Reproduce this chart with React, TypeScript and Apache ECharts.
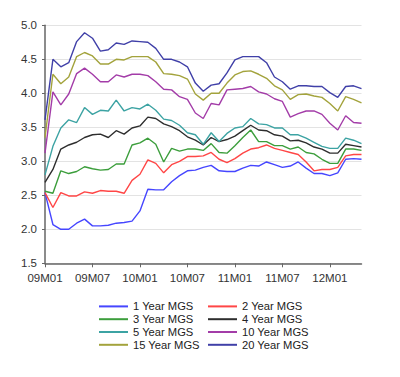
import React, { useEffect, useRef } from "react";
import * as echarts from "echarts";

const categories = [
  "09M01","09M02","09M03","09M04","09M05","09M06","09M07","09M08","09M09","09M10","09M11","09M12",
  "10M01","10M02","10M03","10M04","10M05","10M06","10M07","10M08","10M09","10M10","10M11","10M12",
  "11M01","11M02","11M03","11M04","11M05","11M06","11M07","11M08","11M09","11M10","11M11","11M12",
  "12M01","12M02","12M03","12M04","12M05",
];

const y1 = [2.54,2.07,2.00,2.00,2.09,2.15,2.05,2.05,2.06,2.09,2.10,2.12,2.27,2.59,2.58,2.58,2.70,2.79,2.86,2.87,2.91,2.94,2.86,2.85,2.85,2.90,2.94,2.93,2.99,2.95,2.91,2.93,2.99,2.90,2.82,2.82,2.79,2.83,3.03,3.04,3.03];
const y2 = [2.54,2.32,2.54,2.49,2.49,2.55,2.53,2.57,2.56,2.56,2.53,2.72,2.81,3.02,2.97,2.83,2.95,3.00,3.07,3.07,3.08,3.13,3.03,2.98,3.04,3.12,3.18,3.20,3.24,3.19,3.16,3.13,3.10,2.99,2.86,2.88,2.88,2.91,3.08,3.10,3.10];
const y3 = [2.56,2.53,2.86,2.82,2.85,2.92,2.89,2.87,2.88,2.96,2.96,3.24,3.27,3.34,3.25,2.99,3.19,3.15,3.18,3.18,3.16,3.26,3.13,3.12,3.23,3.35,3.46,3.29,3.29,3.23,3.23,3.18,3.21,3.13,3.11,3.03,2.97,2.97,3.18,3.18,3.16];
const y4 = [2.69,2.88,3.18,3.24,3.28,3.35,3.39,3.40,3.35,3.45,3.40,3.49,3.52,3.65,3.63,3.55,3.51,3.45,3.36,3.31,3.24,3.35,3.29,3.32,3.37,3.45,3.53,3.46,3.45,3.39,3.37,3.30,3.31,3.27,3.21,3.18,3.12,3.12,3.25,3.23,3.21];
const y5 = [2.80,3.22,3.49,3.61,3.57,3.79,3.69,3.75,3.74,3.90,3.74,3.79,3.77,3.84,3.75,3.62,3.60,3.53,3.42,3.39,3.25,3.42,3.29,3.41,3.49,3.51,3.63,3.55,3.54,3.49,3.49,3.39,3.39,3.34,3.28,3.22,3.19,3.19,3.34,3.31,3.26];
const y10 = [3.12,4.02,3.83,3.99,4.29,4.37,4.28,4.17,4.17,4.27,4.24,4.28,4.28,4.26,4.17,4.06,4.05,3.95,3.91,3.71,3.63,3.85,3.83,4.05,4.06,4.07,4.10,4.02,3.99,3.92,3.88,3.65,3.70,3.74,3.74,3.69,3.56,3.46,3.67,3.57,3.56];
const y15 = [3.35,4.28,4.14,4.24,4.54,4.60,4.55,4.43,4.43,4.50,4.49,4.54,4.54,4.54,4.46,4.29,4.28,4.26,4.21,3.99,3.90,4.00,4.00,4.15,4.27,4.32,4.33,4.28,4.22,4.11,4.05,3.91,3.98,3.99,3.96,3.94,3.85,3.74,3.95,3.91,3.86];
const y20 = [3.61,4.50,4.39,4.45,4.76,4.89,4.81,4.62,4.64,4.74,4.72,4.77,4.76,4.75,4.66,4.50,4.50,4.46,4.39,4.15,4.03,4.12,4.14,4.30,4.49,4.54,4.54,4.54,4.45,4.24,4.17,4.06,4.11,4.11,4.10,4.10,4.01,3.94,4.10,4.11,4.07];

const seriesNames = ["1 Year MGS","2 Year MGS","3 Year MGS","4 Year MGS","5 Year MGS","10 Year MGS","15 Year MGS","20 Year MGS"];
const seriesData = [y1, y2, y3, y4, y5, y10, y15, y20];
const colors = ["#4646ff","#ff4646","#3c9e3c","#2e2e2e","#3ca3a3","#a33ca8","#a3a33c","#4040a8"];

const FONT = 'Arial, "Liberation Sans", sans-serif';

export default function App() {
  const ref = useRef<HTMLDivElement>(null);
  useEffect(() => {
    if (!ref.current) return;
    const chart = echarts.init(ref.current, undefined, { renderer: "svg" });
    const legendCommon = {
      orient: "vertical" as const,
      top: 300,
      padding: 0,
      itemGap: 0,
      itemWidth: 29,
      itemHeight: 2,
      icon: "rect",
      textStyle: { fontFamily: FONT, fontSize: 11.2, color: "#222", lineHeight: 12.8 },
    };
    chart.setOption({
      animation: false,
      color: colors,
      grid: { left: 45, right: 38.5, top: 25.3, bottom: 113.7, containLabel: false },
      legend: [
        { ...legendCommon, left: 99, data: ["1 Year MGS", "3 Year MGS", "5 Year MGS", "15 Year MGS"] },
        { ...legendCommon, left: 208, data: ["2 Year MGS", "4 Year MGS", "10 Year MGS", "20 Year MGS"] },
      ],
      xAxis: {
        type: "category",
        data: categories,
        boundaryGap: false,
        axisLine: { lineStyle: { color: "#666", width: 1.5 } },
        axisTick: { interval: 5, length: 4, lineStyle: { color: "#666" } },
        axisLabel: { interval: 5, margin: 9, fontFamily: FONT, fontSize: 11.5, color: "#333" },
        splitLine: { show: false },
      },
      yAxis: {
        type: "value",
        min: 1.5,
        max: 5.0,
        interval: 0.5,
        axisLine: { show: true, lineStyle: { color: "#666", width: 1.5 } },
        axisTick: { show: true, length: 3, lineStyle: { color: "#666" } },
        axisLabel: {
          margin: 8,
          fontFamily: FONT,
          fontSize: 11.5,
          color: "#333",
          formatter: (v: number) => v.toFixed(1),
        },
        splitLine: { show: true, lineStyle: { color: "#e3e3e3", width: 1 } },
      },
      series: seriesNames.map((name, i) => ({
        name,
        type: "line",
        data: seriesData[i],
        showSymbol: false,
        symbol: "none",
        lineStyle: { width: 1.4, color: colors[i] },
        itemStyle: { color: colors[i] },
      })),
    });
    return () => chart.dispose();
  }, []);
  return (
    <div
      ref={ref}
      style={{ position: "fixed", left: 0, top: 0, width: 400, height: 377, background: "#fff" }}
    />
  );
}
